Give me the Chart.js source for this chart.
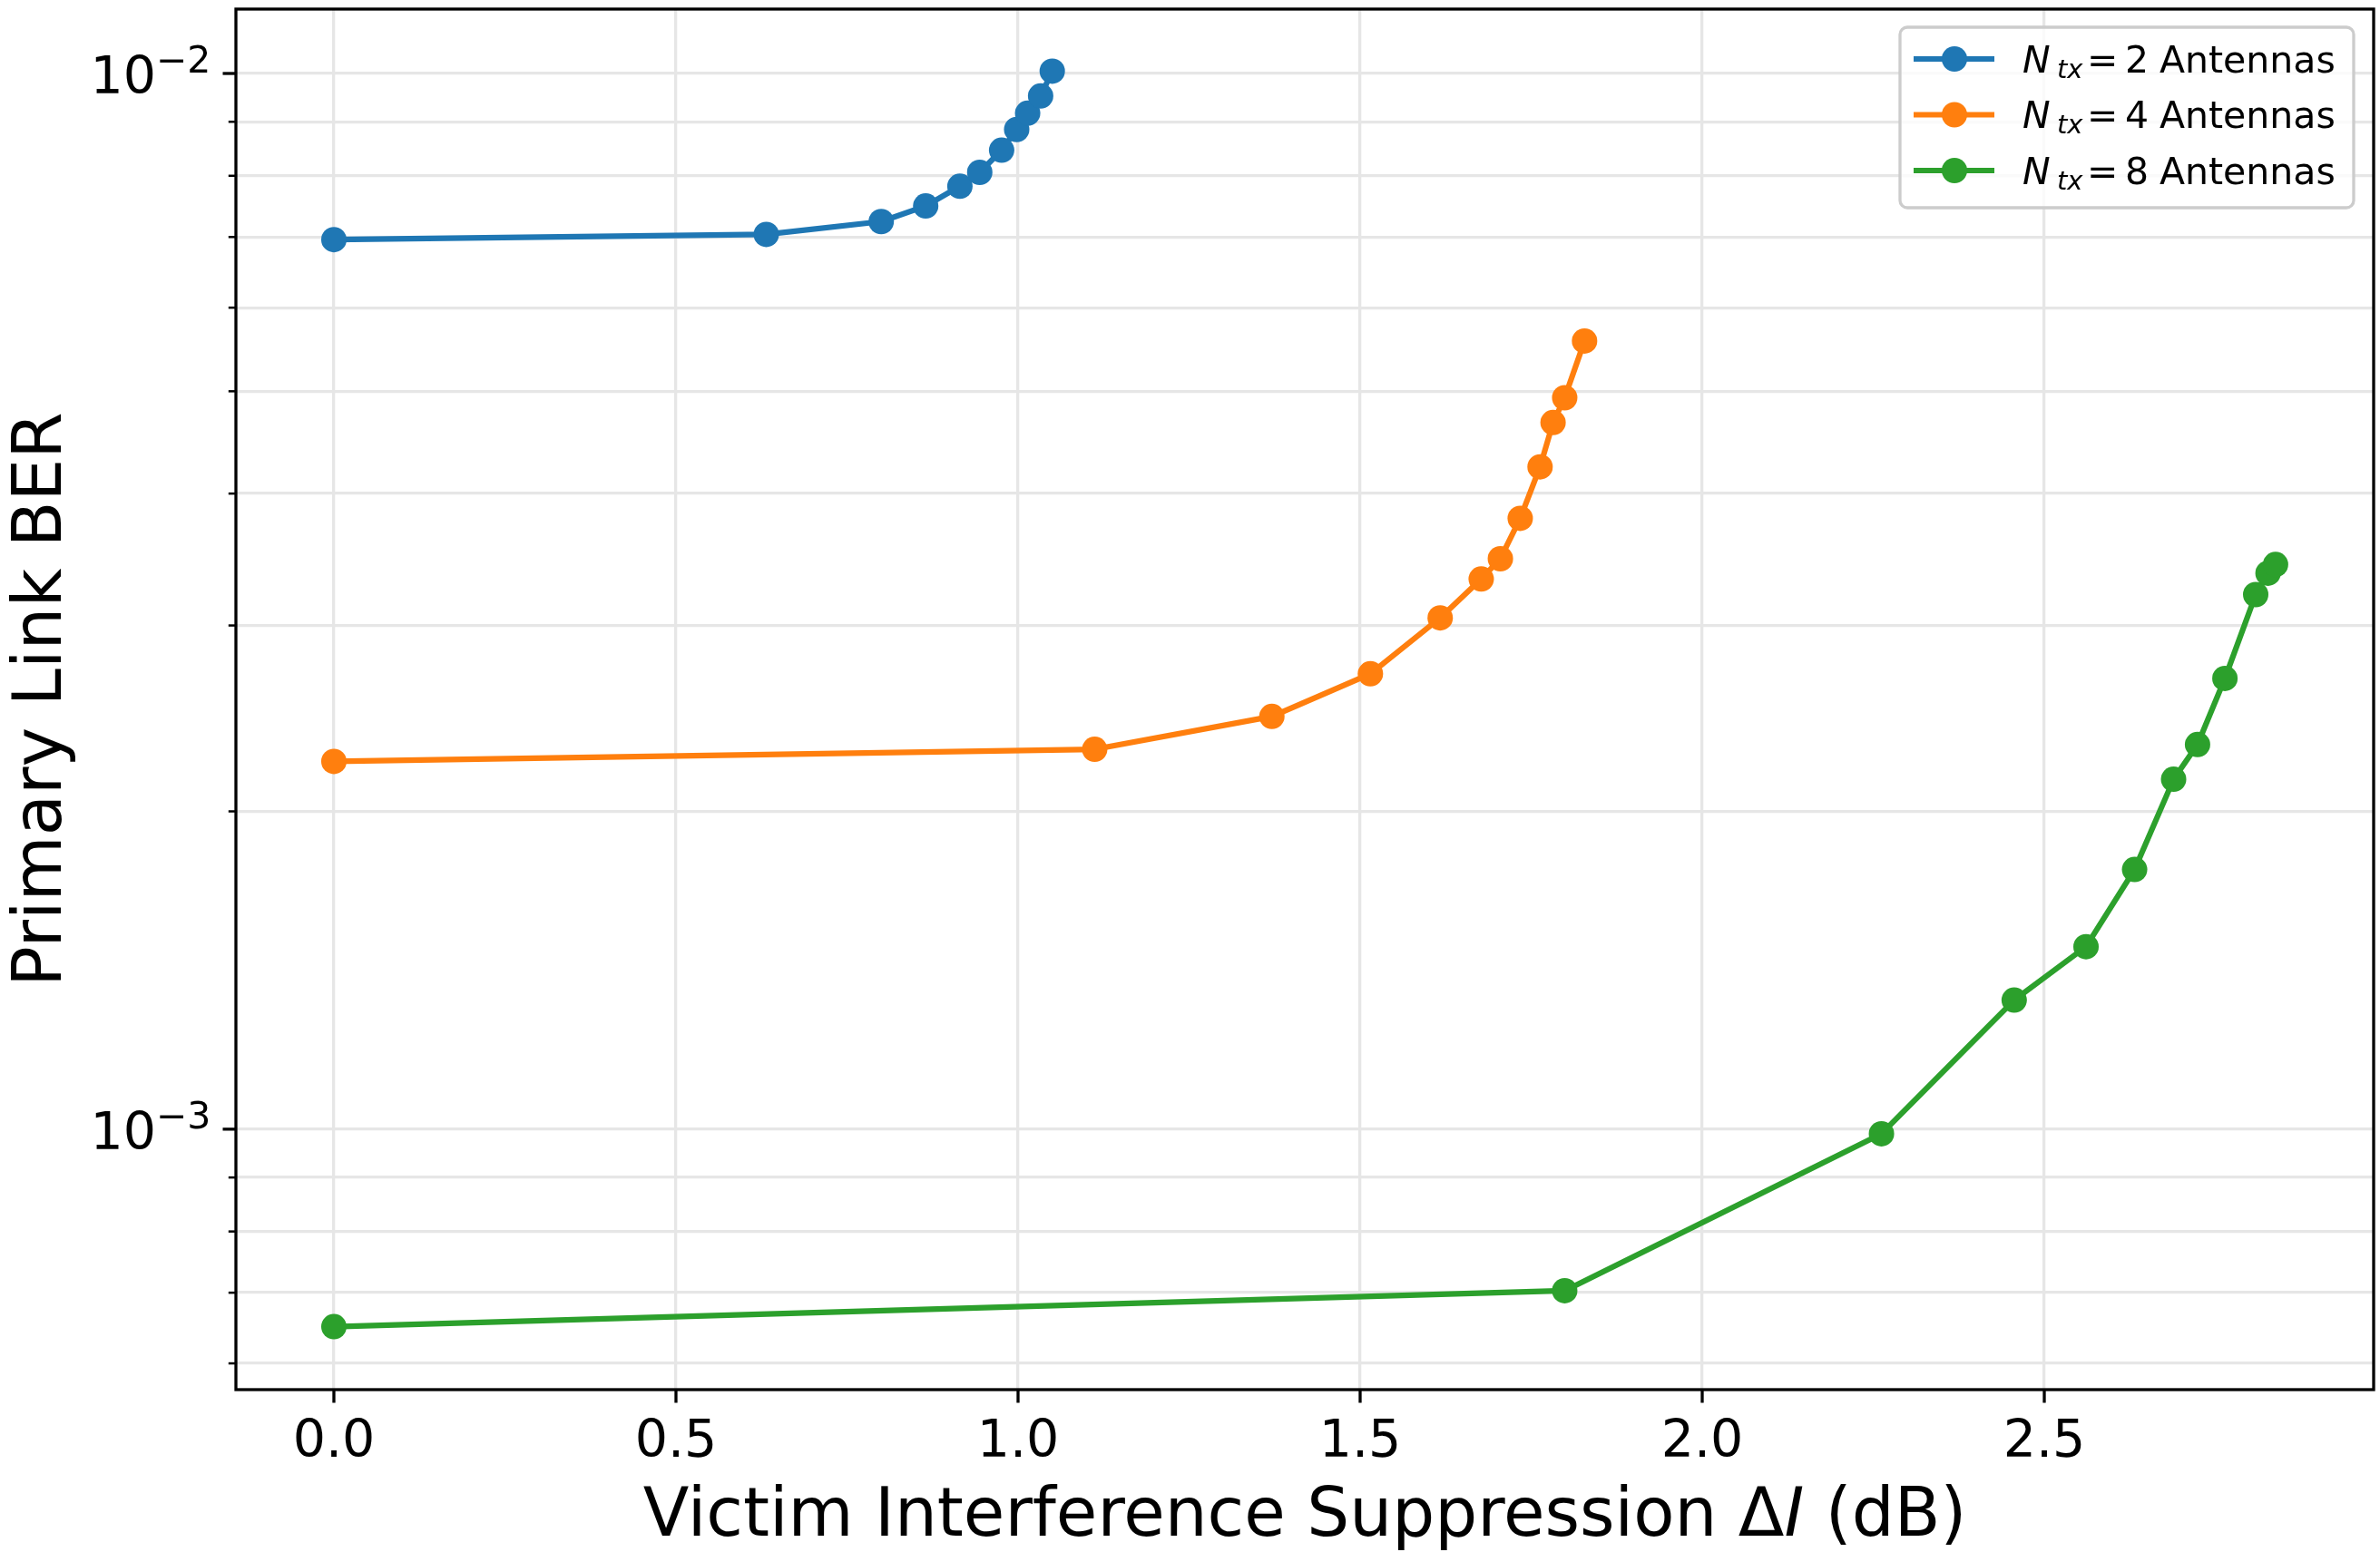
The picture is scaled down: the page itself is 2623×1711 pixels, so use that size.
<!DOCTYPE html>
<html>
<head>
<meta charset="utf-8">
<script src="https://cdn.jsdelivr.net/npm/chart.js@4.4.1/dist/chart.umd.min.js"></script>
<style>
  html, body { margin: 0; padding: 0; background: #fff; }
  #wrap { width: 2623px; height: 1711px; }
</style>
</head>
<body>
<div id="wrap"><canvas id="ber-chart" width="2623" height="1711"></canvas></div>
<script>
// values
const xN2 = [0, 0.632, 0.800, 0.865, 0.915, 0.944, 0.976, 0.998, 1.014, 1.033, 1.050];
const berN2 = [0.00696, 0.00704, 0.00724, 0.00749, 0.00782, 0.00806, 0.00846, 0.00885, 0.00917, 0.00952, 0.01005];
const xN4 = [0, 1.112, 1.371, 1.515, 1.617, 1.677, 1.705, 1.734, 1.763, 1.782, 1.799, 1.828];
const berN4 = [0.00223, 0.00229, 0.00246, 0.00270, 0.00305, 0.00332, 0.00347, 0.00379, 0.00424, 0.00467, 0.00493, 0.00558];
const xN8 = [0, 1.799, 2.262, 2.456, 2.561, 2.632, 2.689, 2.724, 2.764, 2.809, 2.827, 2.838];
const berN8 = [0.000650, 0.000703, 0.000990, 0.001325, 0.001489, 0.001762, 0.002145, 0.002314, 0.002673, 0.003209, 0.003362, 0.003427];

const antennaCounts = ['2', '4', '8'];
const seriesColors = ['#1f77b4', '#ff7f0e', '#2ca02c'];

const xTicks = [0, 0.5, 1.0, 1.5, 2.0, 2.5];
const xTickLabels = ['0.0', '0.5', '1.0', '1.5', '2.0', '2.5'];
const yTicks = [6e-4, 7e-4, 8e-4, 9e-4, 1e-3, 2e-3, 3e-3, 4e-3, 5e-3, 6e-3, 7e-3, 8e-3, 9e-3, 1e-2];
const yMajor = [1e-3, 1e-2];
const yMajorExp = ['\u22123', '\u22122'];

const xTitleParts = ['Victim Interference Suppression \u0394', 'I', ' (dB)'];
const yTitle = 'Primary Link BER';

const FONT = '"DejaVu Sans", sans-serif';

function toPoints(xs, ys) {
  return xs.map((x, i) => ({ x: x, y: ys[i] }));
}

const datasets = [[xN2, berN2], [xN4, berN4], [xN8, berN8]].map(([xs, ys], i) => ({
  label: 'N_tx = ' + antennaCounts[i] + ' Antennas',
  data: toPoints(xs, ys),
  borderColor: seriesColors[i],
  backgroundColor: seriesColors[i],
  borderWidth: 6.2,
  borderJoinStyle: 'round',
  borderCapStyle: 'round',
  pointRadius: 14,
  pointHoverRadius: 14,
  pointBorderWidth: 0,
  tension: 0,
  fill: false
}));

// matplotlib-like frame, ticks, tick labels, titles and legend
const mplDecor = {
  id: 'mplDecor',
  afterDraw(chart) {
    const ctx = chart.ctx;
    const area = chart.chartArea;
    const xs = chart.scales.x, ys = chart.scales.y;
    ctx.save();
    ctx.strokeStyle = '#000';
    ctx.fillStyle = '#000';

    // x ticks + labels
    ctx.lineWidth = 3.3;
    ctx.font = '57px ' + FONT;
    ctx.textAlign = 'center';
    ctx.textBaseline = 'alphabetic';
    xTicks.forEach((v, i) => {
      const px = xs.getPixelForValue(v);
      ctx.beginPath();
      ctx.moveTo(px, area.bottom);
      ctx.lineTo(px, area.bottom + 14.5);
      ctx.stroke();
      ctx.fillText(xTickLabels[i], px, area.bottom + 74);
    });

    // y ticks (major + minor)
    yTicks.forEach(v => {
      const py = ys.getPixelForValue(v);
      const major = yMajor.includes(v);
      ctx.lineWidth = major ? 3.3 : 2.5;
      ctx.beginPath();
      ctx.moveTo(area.left, py);
      ctx.lineTo(area.left - (major ? 14.5 : 8.2), py);
      ctx.stroke();
    });

    // y major labels 10^-n
    yMajor.forEach((v, i) => {
      const py = ys.getPixelForValue(v);
      const xr = area.left - 88;
      ctx.font = '57px ' + FONT;
      ctx.textAlign = 'right';
      ctx.fillText('10', xr, py + 22);
      ctx.font = '41px ' + FONT;
      ctx.textAlign = 'left';
      ctx.fillText(yMajorExp[i], xr, py - 1);
    });

    // frame
    ctx.lineWidth = 3.3;
    ctx.strokeRect(area.left, area.top, area.right - area.left, area.bottom - area.top);

    // y title
    ctx.save();
    ctx.translate(67, (area.top + area.bottom) / 2);
    ctx.rotate(-Math.PI / 2);
    ctx.font = '74px ' + FONT;
    ctx.textAlign = 'center';
    ctx.fillText(yTitle, 0, 0);
    ctx.restore();

    // x title with italic I
    const fonts = ['74px ' + FONT, 'italic 74px ' + FONT, '74px ' + FONT];
    let total = 0;
    const widths = xTitleParts.map((t, i) => {
      ctx.font = fonts[i];
      const w = ctx.measureText(t).width;
      total += w;
      return w;
    });
    let tx = (area.left + area.right) / 2 - total / 2;
    ctx.textAlign = 'left';
    xTitleParts.forEach((t, i) => {
      ctx.font = fonts[i];
      ctx.fillText(t, tx, area.bottom + 161);
      tx += widths[i];
    });

    // legend
    const lx = area.right - 522, ly = area.top + 20, lw = 500, lh = 199;
    ctx.beginPath();
    ctx.roundRect(lx, ly, lw, lh, 8);
    ctx.fillStyle = 'rgba(255,255,255,0.8)';
    ctx.fill();
    ctx.strokeStyle = '#cccccc';
    ctx.lineWidth = 3.3;
    ctx.stroke();
    antennaCounts.forEach((n, i) => {
      const cy = ly + 35 + i * 61.5;
      ctx.strokeStyle = seriesColors[i];
      ctx.fillStyle = seriesColors[i];
      ctx.lineWidth = 6.2;
      ctx.beginPath();
      ctx.moveTo(lx + 15, cy);
      ctx.lineTo(lx + 104, cy);
      ctx.stroke();
      ctx.beginPath();
      ctx.arc(lx + 60, cy, 14, 0, Math.PI * 2);
      ctx.fill();

      const base = cy + 14.5;
      ctx.fillStyle = '#000';
      ctx.textAlign = 'left';
      ctx.font = 'italic 41px ' + FONT;
      ctx.fillText('N', lx + 135, base);
      ctx.font = 'italic 29px ' + FONT;
      ctx.fillText('tx', lx + 173, base + 6);
      ctx.font = '41px ' + FONT;
      ctx.fillText('=', lx + 206, base);
      ctx.fillText(n, lx + 248, base);
      ctx.fillText('Antennas', lx + 286, base);
    });

    ctx.restore();
  }
};

const gridStyle = { color: '#e6e6e6', lineWidth: 3.3, drawTicks: false };

new Chart(document.getElementById('ber-chart'), {
  type: 'line',
  data: { datasets: datasets },
  options: {
    responsive: false,
    animation: false,
    devicePixelRatio: 1,
    events: [],
    layout: { autoPadding: false, padding: { left: 260, top: 10, right: 7, bottom: 179 } },
    plugins: { legend: { display: false }, tooltip: { enabled: false } },
    scales: {
      x: {
        type: 'linear',
        min: -0.1432,
        max: 2.9814,
        ticks: { display: false },
        grid: gridStyle,
        border: { display: false },
        afterBuildTicks: s => { s.ticks = xTicks.map(v => ({ value: v })); },
        afterFit: s => { s.height = 0; }
      },
      y: {
        type: 'logarithmic',
        min: 5.666e-4,
        max: 1.1508e-2,
        ticks: { display: false },
        grid: gridStyle,
        border: { display: false },
        afterBuildTicks: s => { s.ticks = yTicks.map(v => ({ value: v, major: yMajor.includes(v) })); },
        afterFit: s => { s.width = 0; }
      }
    }
  },
  plugins: [mplDecor]
});
</script>
</body>
</html>
